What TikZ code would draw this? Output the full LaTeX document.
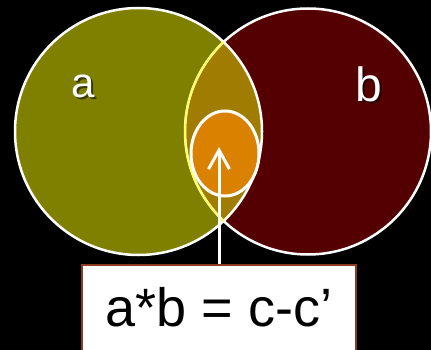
\documentclass[tikz,border=0pt]{standalone}
\usepackage{fontspec}
\setmainfont{Liberation Sans}
\usetikzlibrary{arrows.meta,shapes.geometric}
\definecolor{setolive}{RGB}{128,128,0}
\definecolor{setmaroon}{RGB}{85,0,0}
\definecolor{lensfill}{RGB}{160,125,0}
\definecolor{coreorange}{RGB}{218,130,0}
\definecolor{lensrim}{RGB}{255,255,90}
\definecolor{boxrim}{RGB}{140,60,30}
\newcommand{\radA}{123.5pt}
\newcommand{\radB}{123pt}
\tikzset{
  setdisc/.style={circle, inner sep=0pt, outer sep=0pt},
  rim/.style={draw=white, line width=2.5pt},
  tag/.style={text=white, inner sep=0pt, anchor=base},
  shade/.style={text=black, opacity=.55, inner sep=0pt, anchor=base},
  core/.style={ellipse, draw=white, line width=3pt, fill=coreorange,
    minimum width=68pt, minimum height=85pt, inner sep=0pt},
  eqbox/.style={draw=boxrim, line width=1.5pt, fill=white, anchor=north,
    minimum width=274pt, inner xsep=0pt, inner ysep=22pt,
    text height=40pt, text depth=40pt, font=\fontsize{54}{54}\selectfont},
  pointer/.style={-{Straight Barb[length=19pt, width=21pt]}, draw=white,
    line width=3pt},
}
\begin{document}
\begin{tikzpicture}[x=1pt, y=-1pt]
\fill[black] (0,0) rectangle (431,350);
\useasboundingbox (0,0) rectangle (431,350);
\clip (0,0) rectangle (431,350);

% the two sets
\node[setdisc, fill=setolive, minimum size=247pt] (a) at (138.5,131.5) {};
\node[setdisc, fill=setmaroon, minimum size=246pt] (b) at (308,131.5) {};

% overlap of a and b
\begin{scope}
\clip (a.center) circle[radius=\radA];
\fill[lensfill] (b.center) circle[radius=\radB];
\end{scope}

% outlines
\draw[rim] (b.center) circle[radius=\radB];
\draw[rim] (a.center) circle[radius=\radA];
\begin{scope}
\clip (a.center) circle[radius=\radA];
\draw[rim, draw=lensrim, line width=2pt] (b.center) circle[radius=\radB];
\end{scope}

% set names
\node[shade, font=\fontsize{42}{42}\selectfont] (ashade) at (85.5,100) {a};
\node[tag, font=\fontsize{42}{42}\selectfont] (alabel) at (83.5,98) {a};
\node[shade, font=\fontsize{48}{48}\selectfont] (bshade) at (371,104) {b};
\node[tag, font=\fontsize{48}{48}\selectfont] (blabel) at (369,102) {b};

% the product part
\node[core] (c) at (225,153.5) {};

% equation box
\node[eqbox] (eq) at (219,264) {a*b = c-c’};
\coordinate (tip) at (219,147);
\draw[pointer] (eq.north) -- (tip);

\end{tikzpicture}
\end{document}
